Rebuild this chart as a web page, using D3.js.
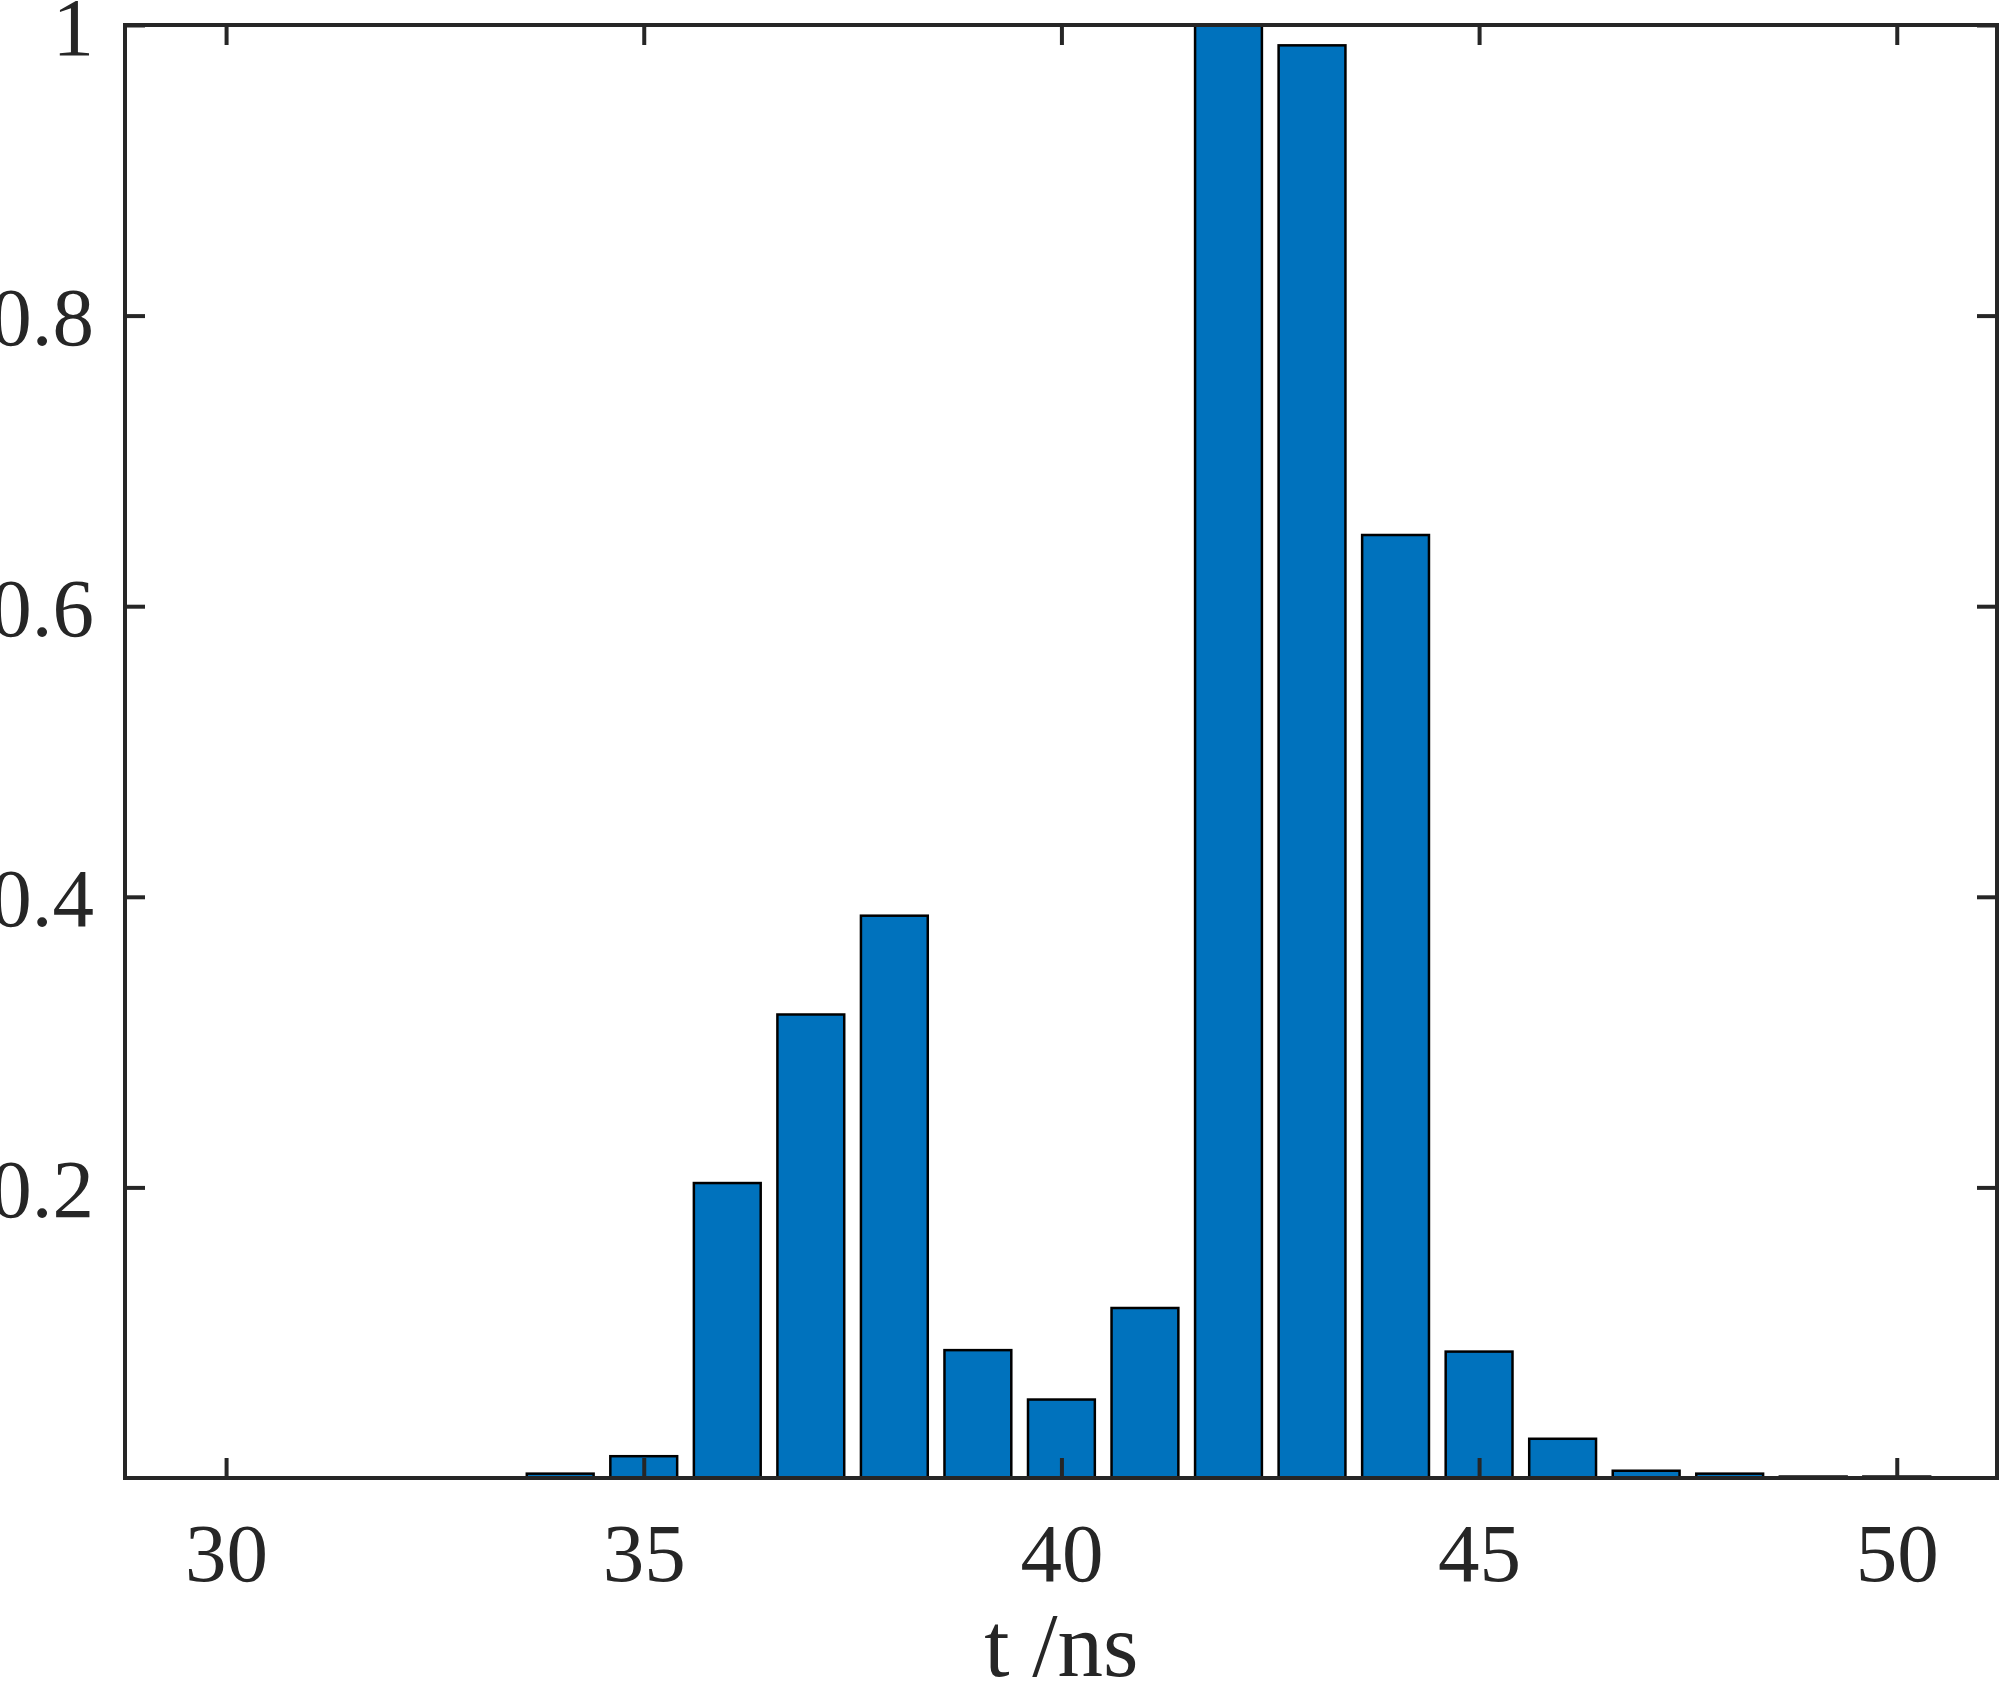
<!DOCTYPE html>
<html>
<head>
<meta charset="utf-8">
<script src="https://cdn.jsdelivr.net/npm/d3@7"></script>
<style>
  html, body { margin: 0; padding: 0; background: #fff; }
  svg { display: block; }
</style>
</head>
<body>
<svg id="chart" width="2000" height="1684"></svg>
<script>
// ---- data ----
const times = [34, 35, 36, 37, 38, 39, 40, 41, 42, 43, 44, 45, 46, 47, 48, 49, 50];
const values = [0.003, 0.015, 0.203, 0.319, 0.387, 0.088, 0.054, 0.117, 1.0, 0.986, 0.649, 0.087, 0.027, 0.005, 0.003, 0.001, 0.001];
const xTickValues = [30, 35, 40, 45, 50];
const xTickLabels = ["30", "35", "40", "45", "50"];
const yTickValues = [0.2, 0.4, 0.6, 0.8, 1];
const yTickLabels = ["0.2", "0.4", "0.6", "0.8", "1"];
const xLabel = "t /ns";
const barWidth = 0.8;

// ---- layout ----
const L = 125, R = 1997, T = 25, B = 1478;
const axisColor = "#262626";
const fontFamily = "'Liberation Serif', 'Times New Roman', serif";
const fontSize = 83;
const labelFontSize = 91;

const svg = d3.select("#chart");
const x = d3.scaleLinear().domain([28.79, 51.2]).range([L, R]);
const y = d3.scaleLinear().domain([0, 1]).range([B, T]);

// bars
svg.append("g").selectAll("rect")
  .data(times.map((t, i) => ({ t, v: values[i] })))
  .join("rect")
  .attr("x", d => x(d.t - barWidth / 2))
  .attr("width", d => x(d.t + barWidth / 2) - x(d.t - barWidth / 2))
  .attr("y", d => y(d.v))
  .attr("height", d => y(0) - y(d.v))
  .attr("fill", "#0072BD")
  .attr("stroke", "#000")
  .attr("stroke-width", 2.5);

// axes (ticks inward, all four sides)
const tickLen = 20;
function styleAxis(g) {
  g.select(".domain").remove();
  g.selectAll(".tick line").attr("stroke", axisColor).attr("stroke-width", 4);
  g.selectAll(".tick text")
    .attr("fill", axisColor)
    .attr("font-family", fontFamily)
    .attr("font-size", fontSize);
}

const xb = svg.append("g").attr("transform", `translate(0,${B})`)
  .call(d3.axisBottom(x).tickValues(xTickValues)
    .tickFormat((d, i) => xTickLabels[i]).tickSize(-tickLen).tickPadding(44));
styleAxis(xb);
xb.selectAll(".tick text").attr("dy", "0.71em");

const xt = svg.append("g").attr("transform", `translate(0,${T})`)
  .call(d3.axisTop(x).tickValues(xTickValues).tickFormat("").tickSize(-tickLen));
styleAxis(xt);

const yl = svg.append("g").attr("transform", `translate(${L},0)`)
  .call(d3.axisLeft(y).tickValues(yTickValues)
    .tickFormat((d, i) => yTickLabels[i]).tickSize(-tickLen).tickPadding(31));
styleAxis(yl);
yl.selectAll(".tick text").attr("dy", "0.35em");

const yr = svg.append("g").attr("transform", `translate(${R},0)`)
  .call(d3.axisRight(y).tickValues(yTickValues).tickFormat("").tickSize(-tickLen));
styleAxis(yr);

// box
svg.append("rect")
  .attr("x", L).attr("y", T)
  .attr("width", R - L).attr("height", B - T)
  .attr("fill", "none")
  .attr("stroke", axisColor)
  .attr("stroke-width", 4);

// x label
svg.append("text")
  .attr("x", x(40))
  .attr("y", 1676)
  .attr("text-anchor", "middle")
  .attr("fill", axisColor)
  .attr("font-family", fontFamily)
  .attr("font-size", labelFontSize)
  .text(xLabel);
</script>
</body>
</html>
